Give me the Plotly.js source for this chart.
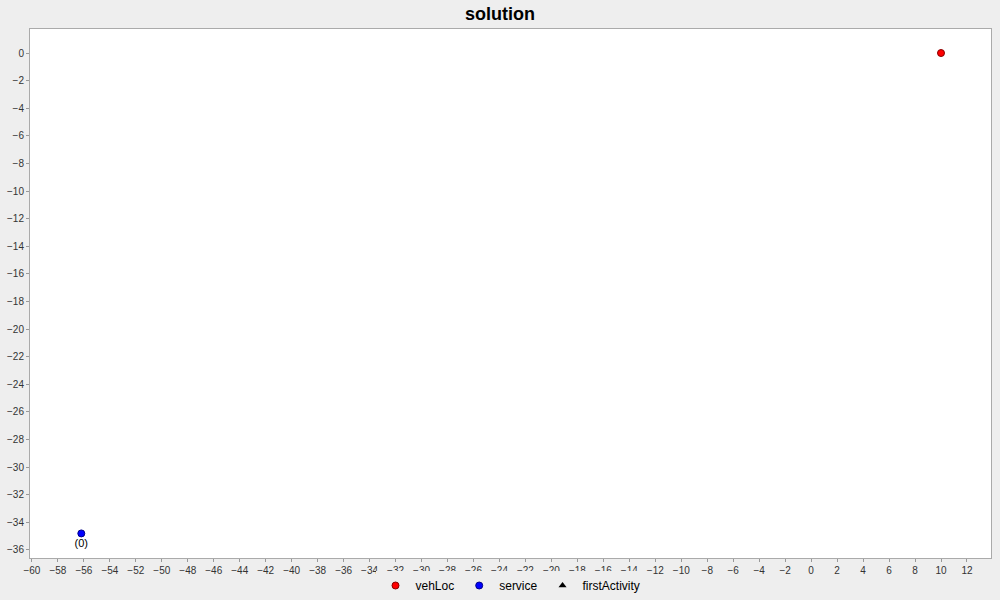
<!DOCTYPE html>
<html>
<head>
<script src="https://cdn.plot.ly/plotly-3.0.1.min.js"></script>
<style>body{margin:0;background:#eeeeee;}</style>
</head>
<body>
<div id="chart1" style="width:1000px;height:600px;"></div>
<script>
var vehLocX = [10];
var vehLocY = [0];
var serviceX = [-56.2];
var serviceY = [-34.8];
var serviceLabels = ["(0)"];
var firstActivityX = [null];
var firstActivityY = [null];

var chartData = [{
    x: vehLocX, y: vehLocY, name: "vehLoc", mode: "markers", type: "scatter",
    marker: {color: "#ff0000", size: 7, line: {color: "#880000", width: 1}}
}, {
    x: serviceX, y: serviceY, name: "service", mode: "markers+text", type: "scatter",
    text: serviceLabels, textposition: "bottom center",
    textfont: {family: "Liberation Sans", size: 11, color: "#000"},
    marker: {color: "#0000ff", size: 7, line: {color: "#000088", width: 1}}
}, {
    x: firstActivityX, y: firstActivityY, name: "firstActivity", mode: "markers", type: "scatter",
    marker: {color: "#000000", size: 7, symbol: "triangle-up"}
}];

var chartLayout = {
    width: 1000, height: 600,
    paper_bgcolor: "#eeeeee", plot_bgcolor: "#ffffff",
    font: {family: "Liberation Sans", size: 10, color: "#333"},
    title: {text: "<b>solution</b>", font: {size: 18, color: "#000"}, y: 0.977, yanchor: "middle"},
    margin: {l: 30, r: 9, t: 29, b: 42},
    showlegend: true,
    legend: {orientation: "h", x: 0.5, xanchor: "center", yref: "container", y: 0.0, yanchor: "bottom",
             font: {size: 12, color: "#000"}, entrywidthmode: "pixels", entrywidth: 0,
             itemwidth: 30, tracegroupgap: 0},
    xaxis: {range: [-60.15, 13.85], dtick: 2, tick0: 0, showgrid: false, zeroline: false,
            showline: true, linecolor: "#aaaaaa", mirror: true, ticks: "outside", ticklen: 3,
            tickcolor: "#999", automargin: false},
    yaxis: {range: [-36.58, 1.74], dtick: 2, tick0: 0, showgrid: false, zeroline: false,
            showline: true, linecolor: "#aaaaaa", mirror: true, ticks: "outside", ticklen: 3,
            tickcolor: "#999", automargin: false}
};

Plotly.newPlot('chart1', chartData, chartLayout, {displayModeBar: false});
</script>
</body>
</html>
